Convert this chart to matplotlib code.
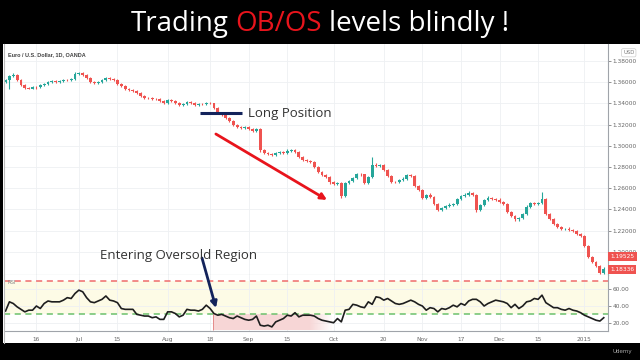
import matplotlib
matplotlib.use("Agg")
import matplotlib.pyplot as plt
from matplotlib.patches import Rectangle
from matplotlib.lines import Line2D
import matplotlib.transforms as mtransforms
import numpy as np
import pandas as pd

W, H = 640, 360

# trading days shown on the chart (OANDA skips Dec 25 and Jan 1)
dates = [d for d in pd.bdate_range("2014-06-04", "2015-01-09")
         if d.strftime("%m-%d") not in ("12-25", "01-01")]

# daily closes
closes = [
    1.3621, 1.3658, 1.3668, 1.3621, 1.3574, 1.3545, 1.3540, 1.3555, 1.3550, 1.3574,
    1.3583, 1.3602, 1.3611, 1.3600, 1.3611, 1.3621, 1.3618, 1.3630, 1.3677, 1.3687,
    1.3668, 1.3640, 1.3602, 1.3592, 1.3602, 1.3621, 1.3640, 1.3630, 1.3621, 1.3583,
    1.3564, 1.3536, 1.3526, 1.3517, 1.3498, 1.3470, 1.3451, 1.3448, 1.3442, 1.3438,
    1.3423, 1.3404, 1.3432, 1.3423, 1.3404, 1.3385, 1.3394, 1.3413, 1.3404, 1.3385,
    1.3394, 1.3390, 1.3404, 1.3400, 1.3357, 1.3309, 1.3291, 1.3262, 1.3234, 1.3196,
    1.3177, 1.3168, 1.3177, 1.3158, 1.3140, 1.3158, 1.2960, 1.2932, 1.2923, 1.2913,
    1.2932, 1.2942, 1.2935, 1.2951, 1.2960, 1.2942, 1.2894, 1.2866, 1.2857, 1.2847,
    1.2800, 1.2753, 1.2725, 1.2706, 1.2658, 1.2640, 1.2649, 1.2526, 1.2649, 1.2668,
    1.2696, 1.2734, 1.2730, 1.2649, 1.2706, 1.2819, 1.2809, 1.2815, 1.2772, 1.2715,
    1.2658, 1.2655, 1.2677, 1.2687, 1.2725, 1.2715, 1.2621, 1.2583, 1.2508, 1.2536,
    1.2517, 1.2451, 1.2394, 1.2413, 1.2432, 1.2442, 1.2451, 1.2498, 1.2526, 1.2536,
    1.2555, 1.2536, 1.2394, 1.2442, 1.2489, 1.2508, 1.2498, 1.2489, 1.2470, 1.2451,
    1.2375, 1.2338, 1.2309, 1.2319, 1.2357, 1.2423, 1.2460, 1.2451, 1.2462, 1.2498,
    1.2357, 1.2309, 1.2262, 1.2234, 1.2215, 1.2218, 1.2206, 1.2196, 1.2168, 1.2149,
    1.2055, 1.1951, 1.1904, 1.1866, 1.1800, 1.1834,
]
first_open = 1.3605
opens = [first_open] + closes[:-1]

# wick lengths above / below the body, in pips
upper_pips = [
    10, 12, 15, 8, 10, 6, 8, 10, 6, 12,
    8, 10, 8, 6, 10, 8, 8, 12, 15, 12,
    8, 6, 10, 8, 8, 10, 12, 8, 6, 10,
    8, 6, 8, 6, 10, 8, 6, 8, 10, 6,
    8, 6, 12, 8, 6, 10, 8, 12, 8, 6,
    10, 8, 12, 10, 8, 6, 10, 8, 6, 8,
    10, 8, 10, 6, 8, 12, 10, 8, 6, 10,
    12, 10, 8, 14, 10, 8, 6, 10, 8, 12,
    6, 8, 10, 8, 10, 8, 12, 10, 12, 10,
    14, 10, 12, 8, 12, 75, 20, 15, 10, 8,
    10, 12, 10, 14, 12, 10, 8, 10, 8, 12,
    18, 10, 12, 10, 8, 14, 10, 12, 10, 14,
    16, 10, 12, 10, 12, 20, 10, 12, 14, 12,
    10, 12, 8, 12, 10, 14, 12, 10, 8, 66,
    12, 8, 10, 12, 8, 10, 12, 8, 10, 8,
    10, 8, 12, 10, 8, 20,
]
lower_pips = [
    15, 90, 10, 8, 12, 10, 8, 6, 10, 8,
    6, 8, 10, 8, 6, 10, 8, 6, 8, 10,
    8, 10, 6, 12, 8, 6, 10, 8, 10, 6,
    8, 10, 8, 6, 10, 8, 12, 6, 8, 10,
    8, 10, 6, 8, 12, 10, 8, 6, 10, 8,
    6, 8, 10, 8, 10, 8, 6, 10, 8, 12,
    8, 10, 8, 12, 8, 10, 15, 10, 12, 8,
    10, 8, 12, 10, 8, 6, 10, 12, 8, 10,
    8, 10, 12, 8, 14, 10, 12, 18, 10, 8,
    10, 8, 12, 14, 10, 8, 10, 12, 10, 8,
    12, 10, 8, 10, 12, 8, 10, 12, 14, 10,
    12, 10, 14, 10, 8, 12, 10, 8, 10, 12,
    10, 12, 16, 10, 8, 10, 12, 10, 8, 12,
    10, 12, 14, 20, 10, 8, 12, 10, 8, 10,
    12, 10, 8, 12, 10, 8, 12, 10, 8, 10,
    14, 10, 12, 14, 10, 8,
]

# RSI values
rsi = [
    34, 45, 43, 39, 36, 33, 35, 35, 40, 37,
    43, 46, 45, 45, 45, 47, 50, 49, 55, 59,
    57, 50, 45, 44, 46, 48, 52, 47, 46, 44,
    37, 36, 36, 36, 30, 29, 28, 28, 26, 27,
    24, 24, 33, 33, 31, 27, 29, 36, 35, 35,
    34, 36, 41, 37, 31, 29, 30, 28, 26, 25,
    28, 26, 24, 23, 24, 28, 17, 16, 17, 15,
    21, 23, 25, 29, 28, 32, 27, 29, 29, 29,
    28, 25, 23, 22, 21, 20, 25, 21, 35, 36,
    42, 41, 39, 38, 45, 42, 51, 50, 47, 49,
    46, 43, 42, 43, 45, 47, 45, 42, 40, 35,
    38, 37, 33, 37, 36, 38, 41, 39, 43, 41,
    46, 48, 48, 45, 40, 43, 45, 47, 46, 45,
    43, 38, 42, 37, 40, 45, 46, 49, 48, 53,
    44, 41, 38, 38, 36, 35, 37, 35, 34, 32,
    29, 27, 25, 23, 22, 26,
]

tick_dates = ["2014-06-16", "2014-07-01", "2014-07-15", "2014-08-01", "2014-08-18",
              "2014-09-01", "2014-09-15", "2014-10-01", "2014-10-20", "2014-11-03",
              "2014-11-17", "2014-12-01", "2014-12-15", "2015-01-02"]
tick_labels = ["16", "Jul", "15", "Aug", "18", "Sep", "15", "Oct", "20", "Nov",
               "17", "Dec", "15", "2015"]
price_ticks = [1.20, 1.22, 1.24, 1.26, 1.28, 1.30, 1.32, 1.34, 1.36, 1.38]
rsi_ticks = [20, 40, 60]
last_prices = [1.19525, 1.18336]

UP, DOWN = "#26a69a", "#ef5350"

fig = plt.figure(figsize=(6.4, 3.6), dpi=100, facecolor="black")


def fx(px):
    return px / W


def fy(py):
    return 1 - py / H


# white chart card
fig.add_artist(Rectangle((fx(3), fy(343)), fx(637), (343 - 44) / H,
                         transform=fig.transFigure, facecolor="white",
                         edgecolor="none", zorder=0))
fig.add_artist(Line2D([fx(3.5), fx(3.5)], [fy(44), fy(343)], transform=fig.transFigure,
                      color="#bbbbbb", lw=0.8))

ax = fig.add_axes([fx(4), fy(275), (608 - 4) / W, (275 - 44) / H])
ax2 = fig.add_axes([fx(4), fy(331), (608 - 4) / W, (331 - 275) / H], sharex=ax)

x = np.arange(len(dates))
pos = {d.strftime("%Y-%m-%d"): i for i, d in enumerate(dates)}
tick_pos = [pos[d] for d in tick_dates]

# candles
o = np.array(opens)
c = np.array(closes)
top = np.maximum(o, c)
bot = np.minimum(o, c)
highs = top + np.array(upper_pips) / 10000
lows = bot - np.array(lower_pips) / 10000
cols = [UP if cc >= oo else DOWN for oo, cc in zip(o, c)]
ax.vlines(x, lows, highs, colors=cols, lw=0.8, zorder=2)
ax.bar(x, np.maximum(top - bot, 0.0004), bottom=bot, width=0.74, color=cols, zorder=3)

for a in (ax, ax2):
    a.set_facecolor("white")
    for s in ("top", "left"):
        a.spines[s].set_visible(False)
    for s in ("right", "bottom"):
        a.spines[s].set_color("#a0a4aa")
        a.spines[s].set_linewidth(0.8)
    a.yaxis.tick_right()
    a.tick_params(axis="y", labelsize=4.2, colors="#666666", length=2, width=0.5, pad=1.5)
    a.set_xticks(tick_pos)
    a.grid(color="#eef0f3", lw=0.6, zorder=0)
    a.set_axisbelow(True)

ax.set_xlim(-0.4, 156.1)
ax.set_ylim(1.1781, 1.3960)
ax.set_yticks(price_ticks, [f"{p:.5f}" for p in price_ticks])
ax.tick_params(axis="x", length=0, labelbottom=False)

# last price tags
tr = mtransforms.blended_transform_factory(ax.transAxes, ax.transData)
for p in last_prices:
    ax.text(1.004, p, f"{p:.5f}", transform=tr, fontsize=4.2, color="white",
            va="center", ha="left", zorder=6, clip_on=False,
            bbox=dict(boxstyle="square,pad=0.35", fc=DOWN, ec="none"))
ax.text(1.025, 0.962, "USD", transform=ax.transAxes, fontsize=3.8, color="#777777",
        ha="left", va="center",
        bbox=dict(boxstyle="round,pad=0.3", fc="white", ec="#cccccc", lw=0.5))
ax.text(0.006, 0.955, "Euro / U.S. Dollar, 1D, OANDA", transform=ax.transAxes,
        fontsize=4, color="#444444", family="Liberation Sans", weight="bold",
        ha="left", va="center")

# RSI panel
ax2.set_ylim(10.1, 77.1)
ax2.set_yticks(rsi_ticks, [f"{v:.2f}" for v in rsi_ticks])
ax2.axhspan(30, 70, color="#fdfbe6", zorder=0.5, lw=0)
ax2.axhline(70, color="#ef6b6b", ls=(0, (4, 3)), lw=1.1, zorder=1)
ax2.axhline(30, color="#6cc16c", ls=(0, (4, 3)), lw=1.1, zorder=1)

# oversold highlight, fading out on the right
fade = np.ones((2, 60, 4))
fade[..., 0], fade[..., 1], fade[..., 2] = 0.97, 0.84, 0.84
fade[..., 3] = np.clip((60 - np.arange(60)) / 12, 0, 1)
ax2.imshow(fade, extent=(53.7, 84.5, 11, 30), aspect="auto", zorder=0.8,
           interpolation="bilinear")
ax2.vlines(53.7, 11, 30, color="#e48a8a", lw=0.7, zorder=0.9)
ax2.plot(x, rsi, color="#1e1e1e", lw=1.2, zorder=3)
ax2.text(0.006, 0.86, "RSI", transform=ax2.transAxes, fontsize=3.8, color="#888888",
         ha="left", va="center")
ax2.set_xlim(-0.4, 156.1)
ax2.set_ylim(10.1, 77.1)
ax2.set_xticks(tick_pos, tick_labels)
ax2.tick_params(axis="x", labelsize=4.2, colors="#666666", length=0, pad=4)

# annotations
ax.plot([50.4, 61.3], [1.3309, 1.3309], color="#13235b", lw=2.2, zorder=5,
        solid_capstyle="butt")
ax.text(62.8, 1.3309, "Long Position", fontsize=9.5, color="#333333",
        family="Open Sans", va="center", ha="left")
ax.annotate("", xy=(83.3, 1.2489), xytext=(54.5, 1.3111),
            arrowprops=dict(arrowstyle="-|>", color="#e8141c", lw=2,
                            mutation_scale=9, shrinkA=0, shrinkB=0), zorder=5)
fig.text(fx(179), fy(255), "Entering Oversold Region", fontsize=9.5, color="#333333",
         family="Open Sans", ha="center", va="center")
ax2.annotate("", xy=(216, H - 308), xycoords="figure pixels",
             xytext=(202, H - 258), textcoords="figure pixels",
             arrowprops=dict(arrowstyle="-|>", color="#13235b", lw=2,
                             mutation_scale=9, shrinkA=0, shrinkB=0), zorder=6)

# title banner: white text with the red "OB/OS"
renderer = fig.canvas.get_renderer()
full = "Trading OB/OS levels blindly !"
tfont = dict(fontsize=20, family="Open Sans", va="baseline", ha="left")


def text_width(s):
    t = fig.text(0, 0, s, **tfont)
    w = t.get_window_extent(renderer).width
    t.remove()
    return w


total = text_width(full)
x0 = W / 2 - total / 2
parts = [("Trading", "white", 0),
         ("OB/OS", "#e8141c", text_width("Trading OB/OS") - text_width("OB/OS")),
         ("levels blindly !", "white", total - text_width("levels blindly !"))]
for s, col, off in parts:
    fig.text(fx(x0 + off), fy(31), s, color=col, **tfont)

fig.text(fx(622), fy(352), "Udemy", fontsize=4, color="#aaaaaa", ha="center", va="center")

fig.savefig("out.png", dpi=100, facecolor="black")
